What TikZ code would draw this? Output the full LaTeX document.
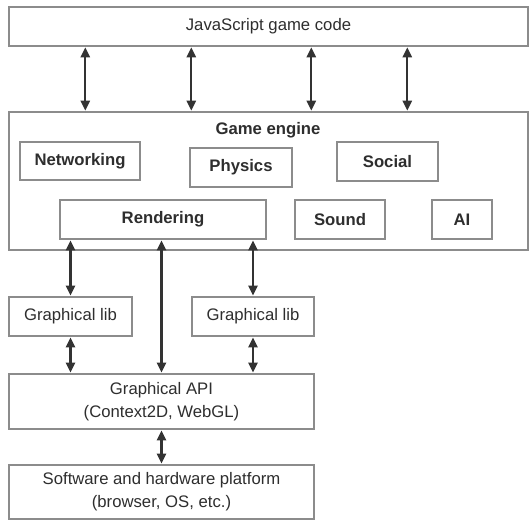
\documentclass[tikz,border=0pt]{standalone}
\usepackage{fontspec}
\setmainfont{Liberation Sans}
\usetikzlibrary{arrows.meta}
\definecolor{boxline}{HTML}{8C8C8C}
\definecolor{arrowgray}{HTML}{333333}
\definecolor{txtgray}{HTML}{2E2E2E}
\begin{document}
\begin{tikzpicture}[x=1pt, y=-1pt,
  every node/.style={font=\fontsize{16.7}{23}\selectfont, text=txtgray},
  layerbox/.style={draw=boxline, line width=1.4pt, fill=white, inner sep=0pt, align=center},
  modbox/.style={layerbox, font=\fontsize{16.7}{23}\selectfont\bfseries},
  dbl/.style={{Triangle[length=10pt,width=9pt]}-{Triangle[length=10pt,width=9pt]},
    draw=arrowgray, line width=2.3pt, shorten <=0.6pt, shorten >=0.6pt}]

\useasboundingbox (0,0) rectangle (530,520);

% layers (centre / width / height in pixels)
\node[layerbox, minimum width=519, minimum height=39] (js) at (268.5,26.5) {JavaScript game code};
\node[layerbox, minimum width=519, minimum height=138] (engine) at (268.5,181) {};
\node[font=\fontsize{16.7}{23}\selectfont\bfseries] (enginelbl) at (268,130) {Game engine};

% engine modules
\node[modbox, minimum width=120, minimum height=38] (net) at (80,161) {Networking};
\node[modbox, minimum width=102, minimum height=39] (phys) at (241,167.5) {Physics};
\node[modbox, minimum width=101, minimum height=39] (social) at (387.5,161.5) {Social};
\node[modbox, minimum width=206, minimum height=39] (render) at (163,219.5) {Rendering};
\node[modbox, minimum width=90, minimum height=39] (sound) at (340,219.5) {Sound};
\node[modbox, minimum width=60, minimum height=39] (ai) at (462,219.5) {AI};

% graphics stack
\node[layerbox, minimum width=123, minimum height=39] (glibA) at (70.5,316.5) {Graphical lib};
\node[layerbox, minimum width=122, minimum height=39] (glibB) at (253,316.5) {Graphical lib};
\node[layerbox, minimum width=305, minimum height=55] (api) at (161.5,401.5)
  {Graphical API\\(Context2D, WebGL)};
\node[layerbox, minimum width=305, minimum height=54] (platform) at (161.5,492)
  {Software and hardware platform\\(browser, OS, etc.)};

% game code <-> engine
\foreach \dx in {77,183,303,399}
  \draw[dbl] ([xshift=\dx]js.south west) -- ([xshift=\dx]engine.north west);

% rendering <-> libs / api
\draw[dbl] (render.south -| glibA.north) -- (glibA.north);
\draw[dbl] (render.south -| api.north) -- (api.north);
\draw[dbl] (render.south -| glibB.north) -- (glibB.north);
\draw[dbl] (glibA.south) -- (glibA.south |- api.north);
\draw[dbl] (glibB.south) -- (glibB.south |- api.north);
\draw[dbl] (api.south) -- (platform.north);

\end{tikzpicture}
\end{document}
